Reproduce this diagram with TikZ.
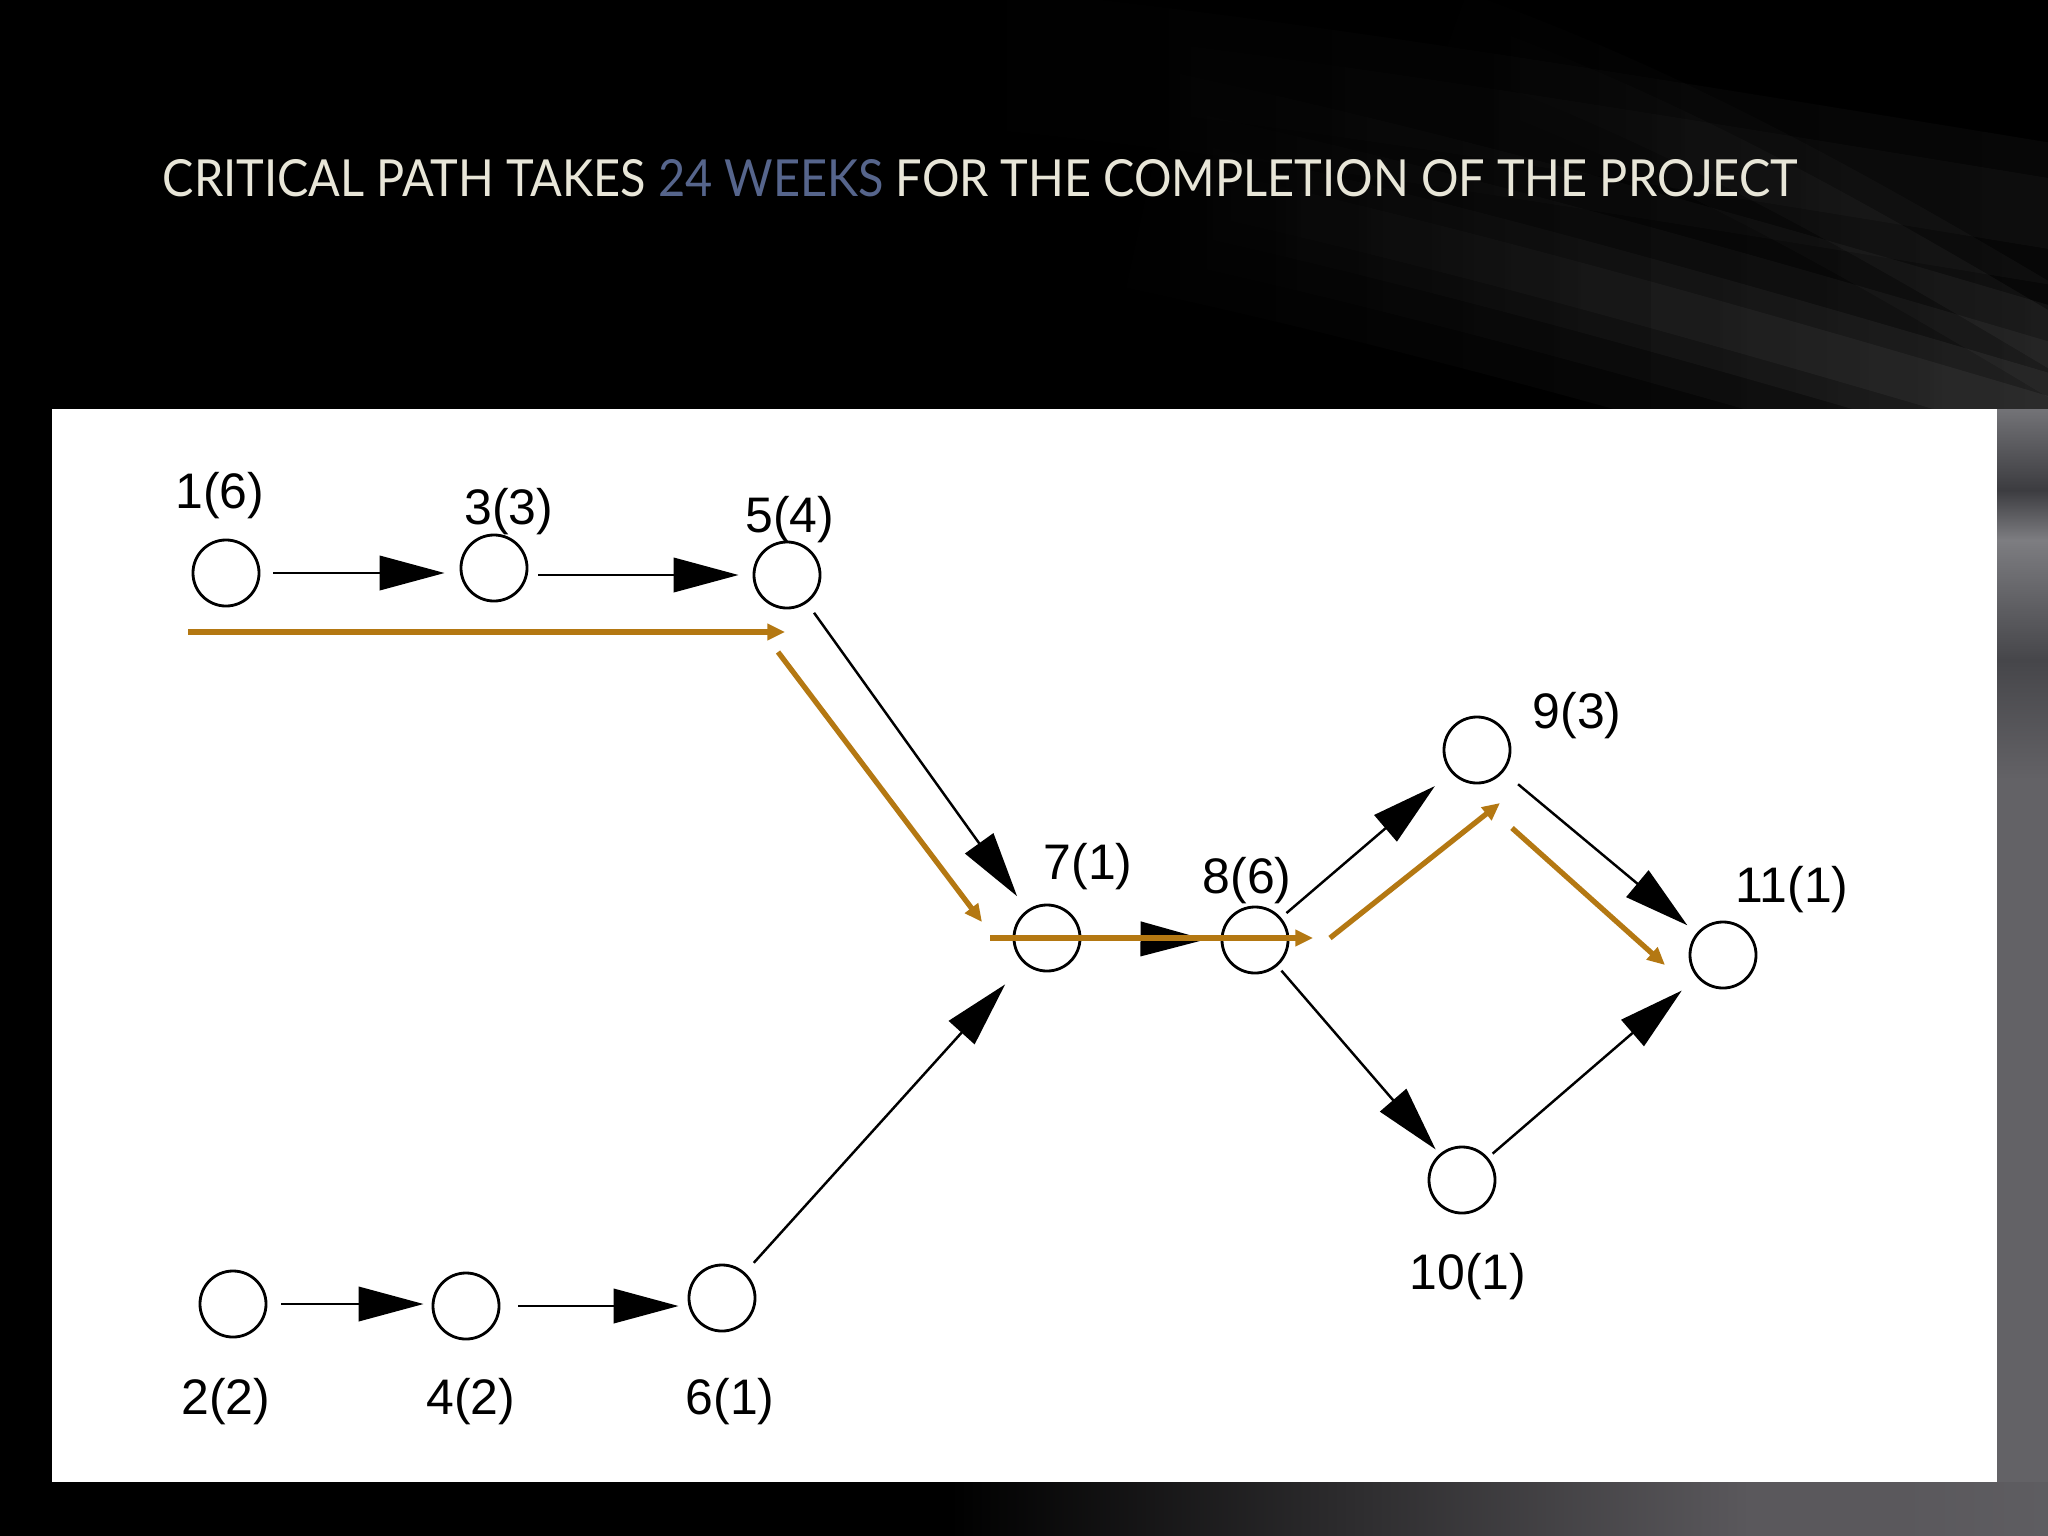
\documentclass[tikz,border=0pt]{standalone}
\usepackage{fontspec}
\usepackage{graphicx}
\setmainfont{Liberation Sans}
\newfontfamily\titlefont{Lato}
\usetikzlibrary{arrows.meta,fadings}
\definecolor{titlecol}{HTML}{E8E6D8}
\definecolor{weekcol}{HTML}{56658C}
\definecolor{critcol}{HTML}{B47812}
\definecolor{stripgray}{HTML}{5E5D61}
\definecolor{bandgray}{HTML}{5A585C}
\definecolor{stripbase}{HTML}{636266}
\definecolor{stripA}{RGB}{115,115,119}
\definecolor{stripB}{RGB}{60,60,64}
\definecolor{stripC}{RGB}{125,125,129}
\definecolor{stripD}{RGB}{70,70,74}
\definecolor{stripE}{RGB}{99,98,102}
\tikzset{
  act/.style={circle, draw=black, line width=0.8pt, minimum size=0.66cm, inner sep=0pt},
  lbl/.style={font=\fontsize{14.2}{16}\selectfont, inner sep=0pt, text=black},
  arr/.style={line width=0.7pt, -{Triangle[length=18.5pt,width=9.8pt]}},
  crit/.style={draw=critcol, line width=1.5pt, -{Triangle[length=5pt,width=4.5pt]}},
  swoosh/.style={draw=white, line cap=butt, path fading=west},
}
\begin{document}
\begin{tikzpicture}[x=0.01cm,y=-0.01cm]
\useasboundingbox (0,0) rectangle (2048,1536);
% background
\fill[black] (0,0) rectangle (2048,1536);
\begin{scope}
\clip (0,0) rectangle (2048,1536);
\foreach \w/\o in {2.2/0.05,1.5/0.05,0.9/0.06,0.45/0.06}{
  \draw[swoosh, line width=\w cm, opacity=\o] (1150,180) .. controls (1450,245) and (1750,330) .. (2150,450);
}
\foreach \w/\o in {1.0/0.04,0.5/0.05}{
  \draw[swoosh, line width=\w cm, opacity=\o] (1450,40) .. controls (1700,130) and (1900,250) .. (2150,400);
}
\foreach \w/\o in {1.4/0.03,0.7/0.03}{
  \draw[swoosh, line width=\w cm, opacity=\o] (1000,60) .. controls (1300,90) and (1600,140) .. (2150,230);
}
\end{scope}
% right strip
\fill[stripbase] (1997,409) rectangle (2048,1482);
\shade[top color=stripA, bottom color=stripB] (1997,409) rectangle (2048,490);
\shade[top color=stripB, bottom color=stripC] (1997,490) rectangle (2048,540);
\shade[top color=stripC, bottom color=stripD] (1997,540) rectangle (2048,660);
\shade[top color=stripD, bottom color=stripE] (1997,660) rectangle (2048,780);
% bottom band
\shade[left color=black, right color=bandgray] (950,1482) rectangle (1750,1536);
\fill[bandgray] (1750,1482) rectangle (2048,1536);
\shade[left color=bandgray, right color=stripgray] (1900,1482) rectangle (2048,1536);
% panel
\fill[white] (52,409) rectangle (1997,1482);

% title
\node[anchor=west, inner sep=0pt] (title) at (162,178)
  {\resizebox{16.34cm}{0.37cm}{\titlefont\color{titlecol}CRITICAL PATH TAKES \textcolor{weekcol}{24 WEEKS} FOR THE COMPLETION OF THE PROJECT}};

% activities
\node[act] (n1) at (226,573) {};
\node[act] (n3) at (494,568) {};
\node[act] (n5) at (787,575) {};
\node[act] (n7) at (1047,938) {};
\node[act] (n8) at (1255,940) {};
\node[act] (n9) at (1477,750) {};
\node[act] (n11) at (1723,955) {};
\node[act] (n10) at (1462,1180) {};
\node[act] (n2) at (233,1304) {};
\node[act] (n4) at (466,1306) {};
\node[act] (n6) at (722,1298) {};

% labels
\node[lbl] (l1) at (220,496) {1(6)};
\node[lbl] (l3) at (509,512) {3(3)};
\node[lbl] (l5) at (790,520) {5(4)};
\node[lbl] (l7) at (1088,867) {7(1)};
\node[lbl] (l8) at (1247,881) {8(6)};
\node[lbl] (l9) at (1577,716) {9(3)};
\node[lbl] (l11) at (1792,890) {11(1)};
\node[lbl] (l10) at (1468,1277) {10(1)};
\node[lbl] (l2) at (226,1402) {2(2)};
\node[lbl] (l4) at (471,1402) {4(2)};
\node[lbl] (l6) at (730,1402) {6(1)};

% dependencies
\draw[arr, shorten <=0.13cm, shorten >=0.15cm] (n1) -- (n1 -| n3.west);
\draw[arr, shorten <=0.10cm, shorten >=0.14cm] (n3.east |- n5) -- (n5);
\draw[arr, shorten <=0.12cm, shorten >=0.17cm] (n5) -- (n7);
\draw[arr, shorten <=0.13cm, shorten >=0.28cm] (n6) -- (n7);
\draw[arr, shorten <=0.10cm, shorten >=0.15cm] (n7) -- (n8);
\draw[arr, shorten <=0.07cm, shorten >=0.21cm] (n8) -- (n9);
\draw[arr, shorten <=0.06cm, shorten >=0.06cm] (n8) -- (n10);
\draw[arr, shorten <=0.19cm, shorten >=0.12cm] (n9) -- (n11);
\draw[arr, shorten <=0.06cm, shorten >=0.20cm] (n10) -- (n11);
\draw[arr, shorten <=0.14cm, shorten >=0.08cm] (n2) -- (n2 -| n4.west);
\draw[arr, shorten <=0.18cm, shorten >=0.09cm] (n4) -- (n4 -| n6.west);

% critical path overlay
\coordinate (c1a) at (188,632);  \coordinate (c1b) at (785,632);
\coordinate (c2a) at (778,652);  \coordinate (c2b) at (982,922);
\coordinate (c3a) at (990,938);  \coordinate (c3b) at (1313,938);
\coordinate (c4a) at (1330,938); \coordinate (c4b) at (1500,803);
\coordinate (c5a) at (1512,828); \coordinate (c5b) at (1665,965);
\draw[crit] (c1a) -- (c1b);
\draw[crit] (c2a) -- (c2b);
\draw[crit] (c3a) -- (c3b);
\draw[crit] (c4a) -- (c4b);
\draw[crit] (c5a) -- (c5b);
\end{tikzpicture}
\end{document}
